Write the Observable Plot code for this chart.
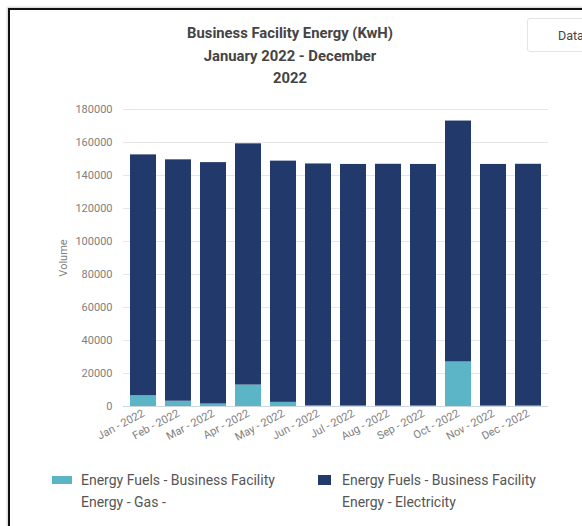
<!DOCTYPE html>
<html>
<head>
<meta charset="utf-8">
<script src="https://cdn.jsdelivr.net/npm/d3@7"></script>
<script src="https://cdn.jsdelivr.net/npm/@observablehq/plot@0.6"></script>
<style>
  html, body { margin: 0; padding: 0; background: #fff; }
  body { width: 582px; height: 526px; overflow: hidden; position: relative; font-family: Roboto, "Open Sans", sans-serif; }
  #frame { position: absolute; left: 8px; top: 8px; right: -10px; bottom: -10px; border-left: 2.5px solid #111; border-top: 2.5px solid #111; box-shadow: -1px -1px 2px rgba(0,0,0,0.2); }
  #title { position: absolute; left: 140px; width: 300px; top: 22px; text-align: center; font-weight: bold; font-size: 14.8px; line-height: 22.5px; color: #444; }
  #databtn { position: absolute; left: 527px; top: 18px; width: 80px; height: 34px; border: 1px solid #e4e4e4; border-radius: 3px; box-sizing: border-box; font-size: 12.5px; color: #444; padding: 9px 0 0 30px; }
  #chart { position: absolute; left: 0; top: 90px; }
  .leg { position: absolute; font-size: 14px; line-height: 22px; color: #555; }
  .sw { position: absolute; }
</style>
</head>
<body>
<div id="frame"></div>
<div id="title">Business Facility Energy (KwH)<br>January 2022 - December<br>2022</div>
<div id="databtn">Data</div>
<div id="chart"></div>
<div class="sw" style="left:52px;top:476px;width:20px;height:8px;background:#5bb5c6"></div>
<div class="leg" style="left:81px;top:469px;">Energy Fuels - Business Facility<br>Energy - Gas -</div>
<div class="sw" style="left:318px;top:475px;width:13px;height:10px;background:#213a6b"></div>
<div class="leg" style="left:342px;top:469px;">Energy Fuels - Business Facility<br>Energy - Electricity</div>
<script>
const months = ["Jan - 2022","Feb - 2022","Mar - 2022","Apr - 2022","May - 2022","Jun - 2022","Jul - 2022","Aug - 2022","Sep - 2022","Oct - 2022","Nov - 2022","Dec - 2022"];
const gas = [6500, 3200, 1500, 13000, 2500, 400, 300, 300, 300, 27000, 300, 300];
const electricity = [146000, 146300, 146300, 146200, 146200, 146600, 146400, 146500, 146400, 146000, 146400, 146500];
const seriesNames = ["Energy Fuels - Business Facility Energy - Gas -", "Energy Fuels - Business Facility Energy - Electricity"];
const seriesColors = ["#5bb5c6", "#213a6b"];
const yTicks = [0,20000,40000,60000,80000,100000,120000,140000,160000,180000];

const rows = [];
months.forEach((m, i) => rows.push({month: m, series: seriesNames[0], value: gas[i]}));
months.forEach((m, i) => rows.push({month: m, series: seriesNames[1], value: electricity[i]}));

const chart = Plot.plot({
  width: 582,
  height: 366,
  marginTop: 19,
  marginBottom: 50,
  marginLeft: 123,
  marginRight: 34,
  style: {fontFamily: "Roboto, sans-serif", fontSize: "11px", color: "#666", background: "transparent"},
  x: {domain: months, paddingInner: 0.267, paddingOuter: 0.13, label: null},
  y: {domain: [0, 180000], label: null},
  color: {domain: seriesNames, range: seriesColors},
  marks: [
    Plot.gridY(yTicks, {stroke: "#e6e6e6", strokeOpacity: 1}),
    Plot.axisY(yTicks, {tickSize: 0, tickPadding: 11, tickFormat: d => String(d), fill: "#808080", fontSize: 11, label: "Volume", labelAnchor: "center", labelArrow: "none", labelOffset: 64}),
    Plot.barY(rows, {x: "month", y: "value", fill: "series"}),
    Plot.ruleY([0], {stroke: "#ccd6e0"}),
    Plot.axisX({tickSize: 0, tickPadding: 6, tickRotate: -28, fill: "#808080", fontSize: 11, label: null})
  ]
});
document.getElementById("chart").appendChild(chart);
</script>
</body>
</html>
